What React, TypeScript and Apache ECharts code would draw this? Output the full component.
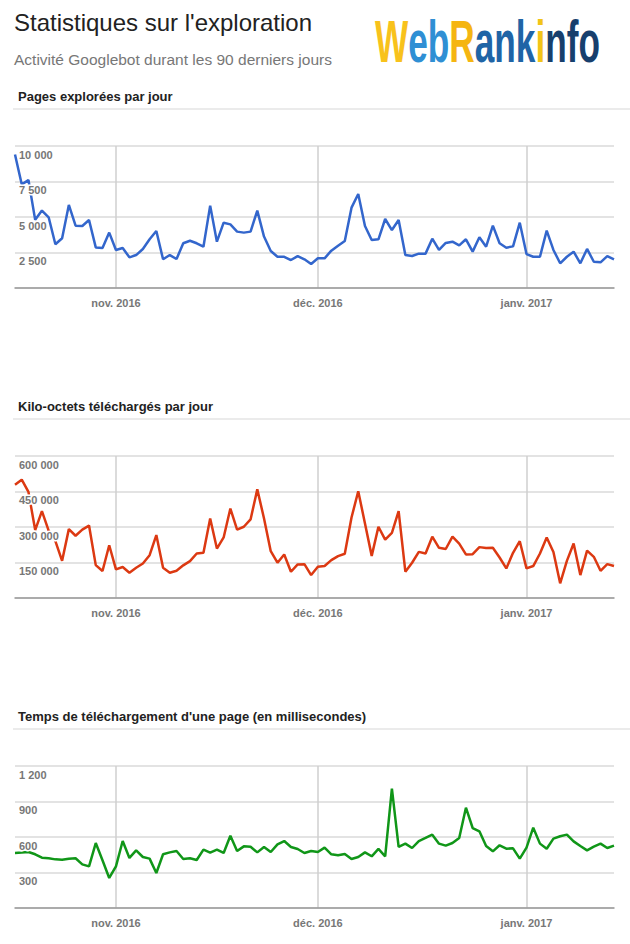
import React, { useEffect, useRef } from 'react';
import * as echarts from 'echarts';

// 90 days: 17 Oct 2016 -> 14 Jan 2017
const dates: string[] = [];
for (let i = 0; i < 90; i++) {
  const d = new Date(Date.UTC(2016, 9, 17 + i));
  dates.push(d.toISOString().slice(0, 10));
}

const monthTicks: Record<string, string> = {
  '2016-11-01': 'nov. 2016',
  '2016-12-01': 'déc. 2016',
  '2017-01-01': 'janv. 2017',
};

const pagesPerDay = [
  9400, 7300, 7600, 4800, 5450, 4980, 3080, 3500, 5850, 4390,
  4370, 4790, 2860, 2820, 3900, 2680, 2820, 2160, 2320, 2750,
  3430, 4010, 2020, 2320, 2040, 3150, 3330, 3150, 2910, 5800,
  3260, 4600, 4480, 3970, 3900, 3970, 5450, 3620, 2600, 2200,
  2200, 1970, 2250, 2020, 1690, 2090, 2090, 2630, 2980, 3310,
  5660, 6620, 4370, 3380, 3430, 4860, 4080, 4790, 2320, 2250,
  2420, 2420, 3470, 2680, 3170, 3260, 3000, 3430, 2560, 3570,
  2910, 4390, 3150, 2840, 2930, 4600, 2390, 2200, 2200, 4040,
  2680, 1740, 2200, 2560, 1740, 2750, 1850, 1810, 2250, 2020,
];

const kiloPerDay = [
  479000, 500000, 448000, 287000, 367000, 285000, 240000, 157000, 291000, 263000,
  289000, 306000, 139000, 114000, 223000, 121000, 131000, 107000, 128000, 146000,
  181000, 266000, 128000, 107000, 115000, 138000, 156000, 188000, 191000, 336000,
  209000, 256000, 378000, 289000, 301000, 332000, 459000, 336000, 198000, 149000,
  184000, 111000, 142000, 143000, 97000, 132000, 135000, 160000, 177000, 187000,
  340000, 451000, 315000, 178000, 301000, 247000, 275000, 367000, 111000, 149000,
  195000, 188000, 259000, 212000, 207000, 259000, 230000, 184000, 185000, 215000,
  211000, 212000, 171000, 125000, 191000, 240000, 125000, 135000, 188000, 256000,
  194000, 62000, 157000, 230000, 97000, 200000, 174000, 115000, 143000, 135000,
];

const msPerPage = [
  465, 468, 473, 454, 425, 420, 411, 408, 417, 420,
  369, 352, 549, 403, 254, 352, 566, 423, 487, 431,
  417, 296, 454, 470, 482, 414, 420, 406, 493, 468,
  493, 465, 611, 482, 521, 518, 470, 516, 473, 538,
  566, 516, 499, 465, 482, 473, 510, 454, 445, 456,
  414, 431, 470, 437, 499, 437, 1008, 516, 544, 507,
  566, 592, 620, 544, 527, 549, 592, 848, 676, 648,
  524, 479, 530, 501, 504, 417, 510, 679, 544, 501,
  586, 606, 620, 563, 524, 487, 518, 544, 507, 527,
];

const chartTitles = [
  'Pages explorées par jour',
  'Kilo-octets téléchargés par jour',
  "Temps de téléchargement d'une page (en millisecondes)",
];
const yMax = [10000, 600000, 1200];
const yInterval = [2500, 150000, 300];
const seriesData = [pagesPerDay, kiloPerDay, msPerPage];
const seriesColors = ['#3366cc', '#dc3912', '#109618'];

const FONT = "'Liberation Sans', Arial, sans-serif";
const GRID_TOPS = [146, 456, 766];

const fmt = (v: number) =>
  v === 0 ? '' : String(v).replace(/\B(?=(\d{3})+(?!\d))/g, ' ');

const isMonthTick = (idx: number) => !!monthTicks[dates[idx]];

export default function App() {
  const ref = useRef<HTMLDivElement>(null);

  useEffect(() => {
    if (!ref.current) return;
    const chart = echarts.init(ref.current, undefined, { renderer: 'svg' });

    const grids: any[] = [];
    const xAxes: any[] = [];
    const yAxes: any[] = [];
    const series: any[] = [];
    const titles: any[] = [
      {
        text: "Statistiques sur l'exploration",
        left: 14,
        top: 10,
        padding: 0,
        textStyle: { fontFamily: FONT, fontSize: 24, fontWeight: 'normal', color: '#222' },
      },
      {
        text: 'Activité Googlebot durant les 90 derniers jours',
        left: 14,
        top: 51,
        padding: 0,
        textStyle: { fontFamily: FONT, fontSize: 15.5, fontWeight: 'normal', color: '#777' },
      },
    ];
    const graphics: any[] = [
      {
        type: 'text',
        x: 375,
        y: 41,
        scaleX: 0.587,
        style: {
          text: '{a|W}{b|eb}{c|R}{d|ank}{e|i}{f|nfo}',
          fontFamily: FONT,
          fontSize: 60,
          fontWeight: 'bold',
          verticalAlign: 'middle',
          rich: {
            a: { fill: '#f8c21c', fontSize: 60, fontWeight: 'bold', fontFamily: FONT },
            b: { fill: '#2f8fd4', fontSize: 60, fontWeight: 'bold', fontFamily: FONT },
            c: { fill: '#f5b511', fontSize: 60, fontWeight: 'bold', fontFamily: FONT },
            d: { fill: '#1f64a6', fontSize: 60, fontWeight: 'bold', fontFamily: FONT },
            e: { fill: '#f2c417', fontSize: 60, fontWeight: 'bold', fontFamily: FONT },
            f: { fill: '#173f6d', fontSize: 60, fontWeight: 'bold', fontFamily: FONT },
          },
        },
      },
    ];

    for (let g = 0; g < 3; g++) {
      const top = GRID_TOPS[g];
      grids.push({ left: 15, top, width: 599, height: 142, containLabel: false });
      titles.push({
        text: chartTitles[g],
        left: 18,
        top: top - 56,
        padding: 0,
        textStyle: { fontFamily: FONT, fontSize: 13, fontWeight: 'bold', color: '#222' },
      });
      graphics.push({
        type: 'line',
        shape: { x1: 13, y1: top - 37, x2: 630, y2: top - 37 },
        style: { stroke: '#ebebeb', lineWidth: 2 },
      });
      xAxes.push({
        type: 'category',
        gridIndex: g,
        data: dates,
        boundaryGap: false,
        axisLine: { show: true, lineStyle: { color: '#999', width: 1.5 } },
        axisTick: { show: false },
        axisLabel: {
          interval: (idx: number) => isMonthTick(idx),
          formatter: (v: string) => monthTicks[v] || '',
          color: '#777',
          fontWeight: 'bold',
          fontSize: 11,
          fontFamily: FONT,
          margin: 9,
        },
        splitLine: {
          show: true,
          interval: (idx: number) => isMonthTick(idx),
          lineStyle: { color: '#cfcfcf', width: 1.5 },
        },
      });
      yAxes.push({
        type: 'value',
        gridIndex: g,
        min: 0,
        max: yMax[g],
        interval: yInterval[g],
        axisLine: { show: false },
        axisTick: { show: false },
        axisLabel: { show: false },
        splitLine: { show: true, lineStyle: { color: '#dadada', width: 1.5 } },
      });
      yAxes.push({
        type: 'value',
        gridIndex: g,
        min: 0,
        max: yMax[g],
        interval: yInterval[g],
        position: 'left',
        z: 5,
        axisLine: { show: false },
        axisTick: { show: false },
        splitLine: { show: false },
        axisLabel: {
          inside: true,
          margin: 4,
          formatter: fmt,
          color: '#777',
          fontWeight: 'bold',
          fontSize: 11,
          fontFamily: FONT,
          verticalAlign: 'top',
          padding: [3, 0, 0, 0],
          textBorderColor: '#fff',
          textBorderWidth: 3,
        },
      });
      series.push({
        type: 'line',
        xAxisIndex: g,
        yAxisIndex: g * 2,
        data: seriesData[g],
        symbol: 'none',
        smooth: false,
        z: 2,
        lineStyle: { width: 2.5, color: seriesColors[g] },
        itemStyle: { color: seriesColors[g] },
      });
    }

    chart.setOption({
      animation: false,
      backgroundColor: '#fff',
      title: titles,
      grid: grids,
      xAxis: xAxes,
      yAxis: yAxes,
      series,
      graphic: graphics,
    });

    return () => chart.dispose();
  }, []);

  return (
    <div
      ref={ref}
      style={{ position: 'absolute', left: 0, top: 0, width: 630, height: 944 }}
    />
  );
}
